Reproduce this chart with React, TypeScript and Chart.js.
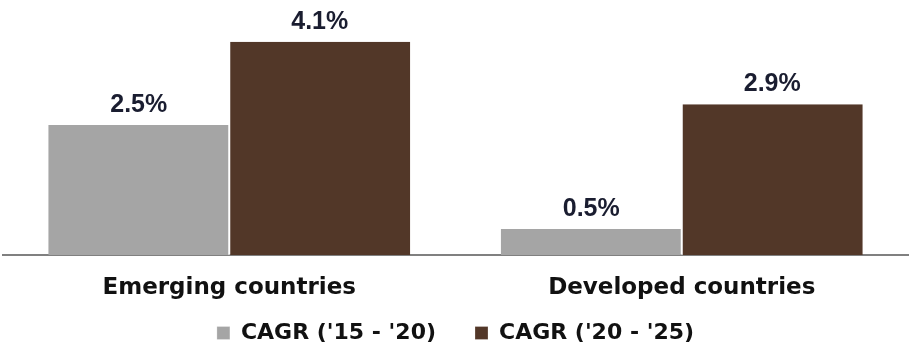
import React, { useEffect, useRef } from "react";
import { Chart, registerables } from "chart.js";

Chart.register(...registerables);

const categories = ["Emerging countries", "Developed countries"];
const seriesNames = ["CAGR ('15 - '20)", "CAGR ('20 - '25)"];
const cagr1520 = [2.5, 0.5];
const cagr2025 = [4.1, 2.9];
const seriesColors = ["#a5a5a5", "#523728"];

const LABEL_FONT = "'Liberation Sans', Arial, sans-serif";
const TEXT_FONT = "'DejaVu Sans', sans-serif";

const valueLabels = {
  id: "valueLabels",
  afterDatasetsDraw(chart: any) {
    const ctx = chart.ctx;
    ctx.save();
    ctx.font = `bold 25px ${LABEL_FONT}`;
    ctx.fillStyle = "#1a1d30";
    ctx.textAlign = "center";
    ctx.textBaseline = "alphabetic";
    chart.data.datasets.forEach((ds: any, di: number) => {
      const meta = chart.getDatasetMeta(di);
      meta.data.forEach((el: any, i: number) => {
        ctx.fillText(ds.data[i].toFixed(1) + "%", el.x, el.y - 13);
      });
    });
    ctx.restore();
  },
};

const categoryLabels = {
  id: "categoryLabels",
  afterDraw(chart: any) {
    const ctx = chart.ctx;
    const xScale = chart.scales.x;
    ctx.save();
    ctx.font = `bold 23px ${TEXT_FONT}`;
    ctx.fillStyle = "#111111";
    ctx.textAlign = "center";
    ctx.textBaseline = "alphabetic";
    chart.data.labels.forEach((lab: string, i: number) => {
      ctx.fillText(lab, xScale.getPixelForTick(i), xScale.top + 39);
    });
    ctx.restore();
  },
};

export default function App() {
  const ref = useRef<HTMLCanvasElement>(null);
  useEffect(() => {
    if (!ref.current) return;
    const chart = new Chart(ref.current, {
      type: "bar",
      data: {
        labels: categories,
        datasets: [
          {
            label: seriesNames[0],
            data: cagr1520,
            backgroundColor: seriesColors[0],
            borderColor: "#ffffff",
            borderWidth: { left: 0, right: 1, top: 0, bottom: 0 } as any,
          },
          {
            label: seriesNames[1],
            data: cagr2025,
            backgroundColor: seriesColors[1],
            borderColor: "#ffffff",
            borderWidth: { left: 1, right: 0, top: 0, bottom: 0 } as any,
          },
        ],
      },
      options: {
        animation: false,
        responsive: false,
        maintainAspectRatio: false,
        layout: { padding: { top: 21, left: 3, right: 6, bottom: 0 } },
        datasets: { bar: { barPercentage: 1, categoryPercentage: 0.8 } },
        scales: {
          x: {
            grid: { display: false, drawTicks: true, tickLength: 28 },
            border: { display: true, color: "#808080", width: 2 },
            ticks: { display: false },
          },
          y: {
            display: false,
            min: 0,
            max: 4.5,
          },
        },
        plugins: {
          legend: {
            position: "bottom",
            labels: {
              boxWidth: 13,
              boxHeight: 13,
              padding: 39,
              color: "#111111",
              font: { family: TEXT_FONT, size: 22, weight: "bold" },
            },
          },
          tooltip: { enabled: false },
        },
      },
      plugins: [valueLabels, categoryLabels],
    });
    return () => chart.destroy();
  }, []);
  return (
    <div style={{ position: "absolute", left: 0, top: 0, width: 914, height: 354, background: "#fff" }}>
      <canvas ref={ref} width={914} height={354} />
    </div>
  );
}
